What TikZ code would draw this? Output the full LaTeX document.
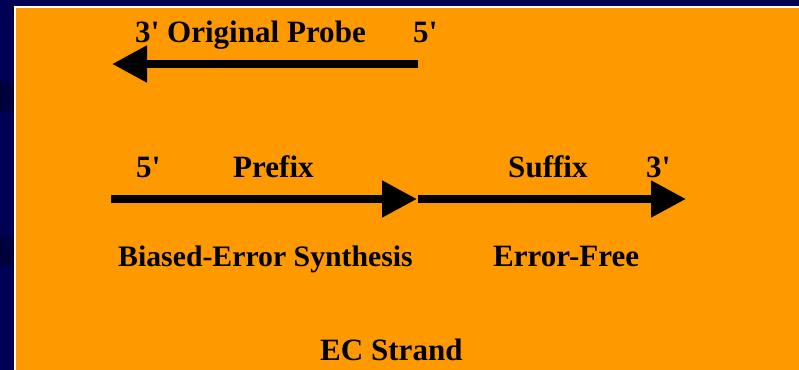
\documentclass[tikz,border=0pt]{standalone}
\usepackage{fontspec}
\setmainfont{Liberation Serif}
\usepackage{tikz}
\usetikzlibrary{arrows.meta}
\definecolor{marine}{HTML}{000055}
\definecolor{marined}{HTML}{00003A}
\definecolor{orange}{HTML}{FF9900}
\newcommand{\st}{\textquotesingle}
\tikzset{
  strang/.style={-{Triangle[length=10.5mm,width=10.5mm]},black,line width=2.4mm},
  txt/.style={anchor=base west,inner sep=0pt,font=\bfseries\fontsize{26.5}{30}\selectfont},
}
\begin{document}
\begin{tikzpicture}[x=0.3mm,y=-0.3mm]
  \useasboundingbox (0,0) rectangle (799,370);
  \fill[marine] (0,0) rectangle (799,370);
  \fill[marined] (0,83) rectangle (14,112);
  \fill[marined] (0,237) rectangle (14,265);
  \fill[white] (14,6) rectangle (799,370);
  \fill[orange] (16,8) rectangle (799,370);
  % Sonde
  \node[txt] (p3) at (135,43) {3\st{} Original Probe};
  \node[txt] (p5) at (413,43) {5\st};
  \coordinate (pa) at (418,64);
  \coordinate (pe) at (112,64);
  \draw[strang] (pa) -- (pe);
  % Praefix und Suffix
  \node[txt] (s5) at (136,178) {5\st};
  \node[txt] (pre) at (233,178) {Prefix};
  \node[txt] (suf) at (508,178) {Suffix};
  \node[txt] (s3) at (646,178) {3\st};
  \coordinate (sa) at (111,199);
  \coordinate (sm) at (417,199);
  \coordinate (sm2) at (418,199);
  \coordinate (se) at (686,199);
  \draw[strang] (sa) -- (sm);
  \draw[strang] (sm2) -- (se);
  \node[txt,font=\bfseries\fontsize{25.4}{30}\selectfont] (bias) at (118,267) {Biased-Error Synthesis};
  \node[txt] (frei) at (493,267) {Error-Free};
  \node[txt] (ec) at (320,360) {EC Strand};
\end{tikzpicture}
\end{document}
